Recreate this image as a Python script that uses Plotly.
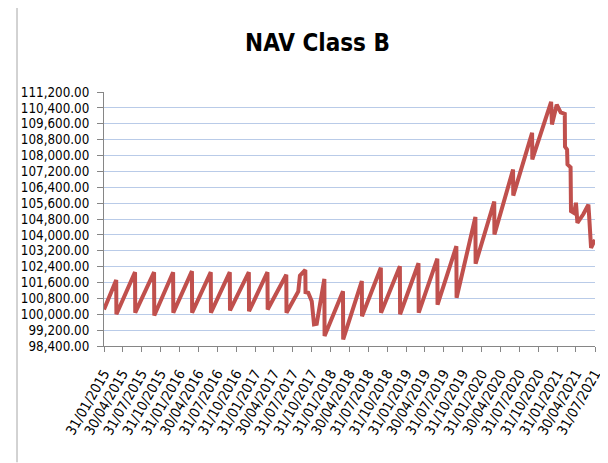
import plotly.graph_objects as go
from datetime import datetime

# ---- data ----
dates = [
    "2015-01-31", "2015-03-31", "2015-04-01", "2015-06-30", "2015-07-01", "2015-09-30",
    "2015-10-01", "2015-12-31", "2016-01-01", "2016-03-31", "2016-04-01", "2016-06-30",
    "2016-07-01", "2016-09-30", "2016-10-01", "2016-12-31", "2017-01-01", "2017-03-31",
    "2017-04-01", "2017-06-30", "2017-07-01", "2017-08-19", "2017-08-27", "2017-09-04",
    "2017-09-30", "2017-10-01", "2017-10-14", "2017-10-31", "2017-11-11", "2017-11-24",
    "2017-12-31", "2018-01-01", "2018-03-31", "2018-04-01", "2018-06-30", "2018-07-01",
    "2018-09-30", "2018-10-01", "2018-12-31", "2019-01-01", "2019-03-31", "2019-04-01",
    "2019-06-30", "2019-07-01", "2019-09-30", "2019-10-01", "2019-12-31", "2020-01-01",
    "2020-03-31", "2020-04-01", "2020-06-30", "2020-07-01", "2020-09-30", "2020-10-01",
    "2020-12-31", "2021-01-04", "2021-01-27", "2021-02-15", "2021-03-07", "2021-03-08",
    "2021-03-18", "2021-03-20", "2021-04-04", "2021-04-06", "2021-04-21", "2021-04-30",
    "2021-05-07", "2021-06-05", "2021-06-29", "2021-07-03", "2021-07-12", "2021-07-31",
]
nav_values = [
    100240, 101720, 100000, 102120, 100080, 102120,
    99940, 102120, 100080, 102170, 100080, 102120,
    100080, 102120, 100190, 102120, 100150, 102120,
    100240, 101990, 100080, 100990, 101150, 101950,
    102230, 101110, 101080, 100660, 99490, 99520,
    101780, 98900, 101160, 98730, 101670, 99900,
    102340, 100080, 102420, 100000, 102570, 100080,
    102800, 100480, 103430, 100830, 104900, 102550,
    105680, 104020, 107290, 105980, 109140, 107800,
    110700, 109560, 110560, 110170, 110100, 108450,
    108300, 107550, 107400, 105200, 105100, 105620,
    104610, 105050, 105520, 104900, 103350, 103750,
]
tick_labels = [
    "31/01/2015", "30/04/2015", "31/07/2015", "31/10/2015",
    "31/01/2016", "30/04/2016", "31/07/2016", "31/10/2016",
    "31/01/2017", "30/04/2017", "31/07/2017", "31/10/2017",
    "31/01/2018", "30/04/2018", "31/07/2018", "31/10/2018",
    "31/01/2019", "30/04/2019", "31/07/2019", "31/10/2019",
    "31/01/2020", "30/04/2020", "31/07/2020", "31/10/2020",
    "31/01/2021", "30/04/2021", "31/07/2021",
]
y_min, y_max, y_step = 98400, 111200, 800
title_text = "NAV Class B"

tick_vals = [datetime.strptime(t, "%d/%m/%Y").strftime("%Y-%m-%d") for t in tick_labels]

FONT = "DejaVu Sans Condensed, Liberation Sans Narrow, Liberation Sans, Arial, sans-serif"

fig = go.Figure()
fig.add_trace(go.Scatter(
    x=dates, y=nav_values, mode="lines",
    line=dict(color="#C0504D", width=4),
    hoverinfo="skip", showlegend=False,
))

# page body has an 8px margin, so the figure is 8px smaller and offset
OFF = 8
W, H = 608 - OFF, 463 - OFF
L, R, T, B = 104 - OFF, 13, 92 - OFF, 116.5
pw, ph = W - L - R, H - T - B

fig.update_layout(
    width=W, height=H, autosize=False,
    margin=dict(l=L, r=R, t=T, b=B, pad=0, autoexpand=False),
    paper_bgcolor="white", plot_bgcolor="white",
    font=dict(family=FONT, color="#000000"),
    title=dict(
        text="<b>" + title_text + "</b>",
        font=dict(family=FONT, size=24, color="#000000"),
        x=(317.5 - OFF) / W, xref="container", xanchor="center",
        y=1 - (43 - OFF) / H, yref="container", yanchor="middle",
    ),
    xaxis=dict(
        type="date", automargin=False,
        range=[tick_vals[0], tick_vals[-1]],
        tickmode="array", tickvals=tick_vals, ticktext=tick_labels,
        tickangle=-60,
        tickfont=dict(family=FONT, size=14, color="#000000"),
        ticklabelstandoff=8,
        showgrid=False, zeroline=False,
        showline=True, linecolor="#868686", linewidth=1,
        ticks="outside", ticklen=5, tickcolor="#868686", tickwidth=1,
    ),
    yaxis=dict(
        automargin=False,
        range=[y_min, y_max],
        tick0=y_min, dtick=y_step,
        tickformat=",.2f",
        tickfont=dict(family=FONT, size=13.3, color="#000000"),
        ticklabelstandoff=5,
        showgrid=True, gridcolor="#B9CBE8", gridwidth=1,
        zeroline=False,
        showline=True, linecolor="#868686", linewidth=1,
        ticks="outside", ticklen=6, tickcolor="#868686", tickwidth=1,
    ),
    shapes=[dict(
        type="line", xref="paper", yref="paper",
        x0=(17 - 104) / pw, x1=(17 - 104) / pw,
        y0=(H - B + OFF) / ph, y1=(H - B - H) / ph,
        line=dict(color="#A6A6A6", width=1),
    )],
)

fig.write_html("out.html")
